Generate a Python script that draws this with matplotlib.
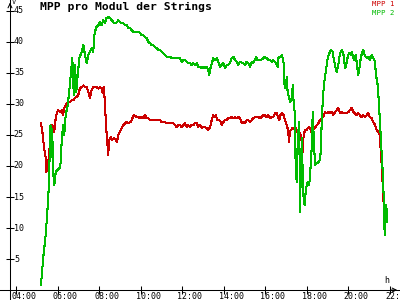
import matplotlib
matplotlib.use("Agg")
import matplotlib.pyplot as plt

# MPP 1 (red), hours / volts
mpp1_time = [5.20, 5.27, 5.35, 5.43, 5.46, 5.53, 5.59, 5.67, 5.75, 5.84, 5.91, 5.97, 6.04, 6.12,
             6.20, 6.26, 6.32, 6.39, 6.49, 6.58, 6.68, 6.76, 6.84, 6.92, 7.00, 7.08, 7.16, 7.24,
             7.32, 7.40, 7.48, 7.56, 7.64, 7.72, 7.88, 7.96, 8.04, 8.12, 8.17, 8.22, 8.28, 8.33,
             8.38, 8.44, 8.48, 8.56, 8.63, 8.72, 8.80, 8.86, 8.92, 9.00, 9.09, 9.16, 9.25, 9.33,
             9.40, 9.53, 9.60, 9.66, 9.81, 9.89, 9.97, 10.05, 10.13, 10.21, 10.29, 10.37, 10.45,
             10.69, 10.93, 11.01, 11.17, 11.25, 11.57, 11.65, 11.73, 11.81, 11.89, 11.97, 12.05,
             12.13, 12.21, 12.29, 12.37, 12.45, 12.53, 12.61, 12.70, 12.77, 12.85, 12.94, 13.01,
             13.09, 13.18, 13.25, 13.34, 13.42, 13.49, 13.58, 13.62, 13.69, 13.78, 13.85, 13.91,
             13.98, 14.06, 14.14, 14.22, 14.30, 14.38, 14.46, 14.54, 14.62, 14.70, 14.78, 14.86,
             14.94, 15.02, 15.10, 15.18, 15.26, 15.34, 15.42, 15.50, 15.58, 15.66, 15.74, 15.82,
             15.90, 15.98, 16.06, 16.14, 16.22, 16.30, 16.38, 16.46, 16.55, 16.62, 16.67, 16.72,
             16.81, 16.88, 16.94, 17.03, 17.07, 17.10, 17.14, 17.18, 17.23, 17.30, 17.36, 17.43,
             17.47, 17.52, 17.58, 17.63, 17.70, 17.75, 17.80, 17.83, 17.87, 17.90, 17.99, 18.04,
             18.10, 18.16, 18.23, 18.29, 18.35, 18.42, 18.48, 18.55, 18.63, 18.71, 18.79, 18.87,
             18.95, 19.03, 19.11, 19.19, 19.27, 19.35, 19.43, 19.51, 19.59, 19.67, 19.75, 19.83,
             19.91, 19.99, 20.07, 20.15, 20.23, 20.31, 20.39, 20.47, 20.55, 20.63, 20.71, 20.79,
             20.88, 20.95, 21.03, 21.12, 21.19, 21.28, 21.36, 21.43, 21.48, 21.52, 21.56, 21.60,
             21.63, 21.66, 21.69]
mpp1_volt = [26.9, 25.5, 22.9, 21.3, 19.0, 19.8, 21.8, 25.5, 26.6, 25.5, 27.7, 28.7, 29.0, 28.7,
             29.0, 28.2, 29.4, 29.8, 30.3, 30.3, 30.6, 30.6, 31.0, 31.1, 31.5, 32.6, 32.7, 33.0,
             32.7, 32.7, 32.0, 31.0, 32.3, 32.7, 32.7, 32.5, 32.7, 32.6, 31.8, 32.7, 30.3, 26.6,
             24.5, 21.8, 24.2, 24.7, 24.2, 24.5, 24.2, 23.9, 25.0, 25.5, 26.1, 26.6, 26.9, 27.1,
             26.9, 27.1, 27.7, 28.2, 27.9, 27.9, 27.7, 27.9, 27.7, 28.2, 27.7, 27.7, 27.4,
             27.4, 27.4, 27.1, 27.1, 26.9, 26.9, 26.6, 26.3, 26.6, 26.6, 26.3, 26.6,
             26.9, 26.3, 26.6, 26.3, 26.6, 26.6, 26.9, 26.9, 26.3, 26.6, 26.1, 26.3,
             26.3, 26.1, 25.8, 26.3, 27.4, 28.2, 27.9, 28.2, 27.4, 27.4, 27.1, 26.6,
             27.1, 27.4, 27.4, 27.7, 27.7, 27.9, 27.7, 27.9, 27.7, 27.9, 27.7, 26.9,
             27.1, 26.9, 27.4, 27.4, 27.1, 27.4, 27.7, 27.9, 27.9, 27.9, 27.7, 27.9,
             28.2, 28.2, 27.9, 28.2, 27.7, 27.9, 27.9, 28.5, 28.5, 27.7, 27.4, 28.2,
             28.5, 28.2, 27.4, 26.6, 26.1, 25.5, 23.9, 25.5, 25.8, 26.1, 26.1, 25.8,
             26.1, 25.5, 25.8, 25.5, 25.0, 23.9, 22.3, 24.5, 25.3, 25.8, 25.8, 26.1,
             26.3, 26.1, 25.3, 25.8, 26.1, 26.3, 26.6, 26.9, 27.4, 27.7, 27.9, 28.7,
             28.5, 28.7, 28.5, 28.7, 28.2, 28.7, 29.0, 29.4, 28.5, 28.7, 28.5, 28.5,
             28.5, 28.7, 29.0, 29.4, 28.7, 28.5, 28.2, 28.5, 28.2, 27.9, 28.2, 27.9,
             28.2, 28.5, 27.9, 27.7, 27.1, 26.6, 25.8, 25.5, 25.3, 24.5, 21.8, 20.2,
             18.1, 15.8, 14.0]

# MPP 2 (green)
mpp2_time = [5.20, 5.31, 5.43, 5.53, 5.59, 5.62, 5.66, 5.70, 5.74, 5.80, 5.84, 5.91, 6.00, 6.12,
             6.17, 6.20, 6.28, 6.32, 6.39, 6.49, 6.56, 6.65, 6.71, 6.78, 6.84, 6.90, 6.97, 7.05,
             7.16, 7.24, 7.32, 7.40, 7.48, 7.64, 7.72, 7.77, 7.85, 7.96, 8.04, 8.12, 8.20, 8.28,
             8.36, 8.44, 8.52, 8.61, 8.68, 8.76, 8.85, 8.92, 9.00, 9.09, 9.16, 9.25, 9.33, 9.40,
             9.49, 9.57, 9.64, 9.73, 9.81, 9.89, 9.97, 10.05, 10.13, 10.21, 10.29, 10.37, 10.45,
             10.53, 10.61, 10.69, 10.77, 10.85, 10.93, 11.01, 11.09, 11.17, 11.25, 11.41, 11.49,
             11.89, 11.97, 12.05, 12.13, 12.21, 12.29, 12.37, 12.45, 12.53, 12.61, 12.70, 12.77,
             12.85, 12.94, 13.01, 13.09, 13.18, 13.25, 13.30, 13.37, 13.43, 13.49, 13.58, 13.66,
             13.73, 13.82, 13.90, 13.98, 14.06, 14.14, 14.22, 14.30, 14.38, 14.46, 14.54, 14.62,
             14.70, 14.78, 14.94, 15.02, 15.10, 15.18, 15.26, 15.34, 15.42, 15.50, 15.55, 15.61,
             15.68, 15.79, 15.90, 15.98, 16.06, 16.14, 16.22, 16.30, 16.38, 16.46, 16.55, 16.59,
             16.62, 16.70, 16.79, 16.83, 16.88, 16.91, 16.94, 16.99, 17.04, 17.07, 17.14, 17.20,
             17.27, 17.32, 17.36, 17.41, 17.46, 17.51, 17.56, 17.60, 17.63, 17.67, 17.71, 17.76,
             17.80, 17.84, 17.89, 17.94, 17.99, 18.04, 18.11, 18.16, 18.23, 18.28, 18.33, 18.39,
             18.47, 18.55, 18.63, 18.68, 18.71, 18.77, 18.82, 18.87, 18.95, 19.01, 19.08, 19.16,
             19.24, 19.30, 19.37, 19.43, 19.51, 19.56, 19.63, 19.69, 19.75, 19.80, 19.85, 19.91,
             19.98, 20.04, 20.11, 20.17, 20.23, 20.28, 20.35, 20.42, 20.47, 20.54, 20.59, 20.65,
             20.71, 20.78, 20.84, 20.90, 20.97, 21.03, 21.12, 21.19, 21.28, 21.32, 21.39, 21.43,
             21.48, 21.52, 21.56, 21.60, 21.65, 21.68, 21.71, 21.74, 21.77, 21.80, 21.83, 21.86]
mpp2_volt = [0.8, 5.2, 8.9, 13.7, 17.4, 22.0, 26.6, 21.5, 26.0, 18.5, 16.9, 19.0, 19.4, 19.7,
             21.3, 24.5, 26.6, 25.0, 28.2, 29.8, 32.0, 35.2, 37.4, 31.5, 36.3, 32.0, 34.7, 37.4,
             38.4, 39.5, 37.9, 36.6, 37.9, 39.0, 38.4, 41.1, 42.3, 42.7, 43.2, 42.7, 43.5, 43.0,
             43.9, 44.0, 43.9, 43.5, 43.2, 43.0, 43.2, 43.5, 43.2, 43.0, 43.0, 42.7, 42.7, 42.3,
             42.3, 41.9, 41.6, 41.6, 41.6, 41.6, 41.5, 41.1, 41.1, 40.8, 40.6, 40.0, 39.8,
             39.5, 39.5, 39.2, 39.0, 38.7, 38.7, 38.4, 38.2, 37.9, 37.6, 37.6, 37.4,
             37.4, 36.8, 37.1, 37.1, 36.8, 36.6, 36.6, 36.3, 36.6, 36.3, 36.6, 36.0,
             36.0, 35.8, 36.0, 35.8, 36.0, 35.5, 34.7, 36.0, 36.6, 37.4, 37.1, 37.4,
             36.8, 36.0, 36.3, 36.6, 35.8, 36.3, 36.3, 36.6, 37.4, 37.6, 37.1, 36.8,
             36.3, 36.8, 36.6, 36.3, 36.8, 36.6, 36.0, 36.8, 36.6, 37.1, 37.6, 37.1,
             37.1, 37.1, 37.4, 37.6, 37.4, 37.1, 37.1, 36.8, 37.1, 36.8, 36.3, 36.0,
             37.4, 37.6, 37.9, 37.4, 36.6, 33.5, 32.6, 33.5, 34.4, 32.0, 31.1, 30.3,
             31.0, 33.1, 30.3, 28.7, 19.7, 17.4, 24.5, 26.1, 27.1, 12.6, 20.2, 24.5,
             18.1, 14.8, 13.7, 15.8, 16.9, 17.4, 16.9, 19.0, 22.9, 28.7, 24.5, 20.2,
             20.4, 20.6, 21.0, 23.0, 27.1, 31.0, 33.1, 34.4, 36.3, 37.6, 38.2, 38.7,
             38.4, 37.1, 36.0, 35.2, 36.3, 37.6, 38.4, 38.7, 38.2, 36.8, 35.8, 36.6,
             37.9, 38.2, 37.9, 38.4, 37.4, 37.1, 37.9, 36.0, 34.7, 36.0, 37.4, 38.2,
             38.7, 37.9, 37.6, 37.4, 37.6, 37.1, 37.9, 37.4, 36.8, 34.7, 33.5, 31.9,
             29.4, 26.6, 24.5, 21.8, 19.0, 16.5, 13.7, 8.9, 11.6, 13.7, 13.2, 11.0]

y_ticks = [5, 10, 15, 20, 25, 30, 35, 40, 45]
x_ticks = [4, 6, 8, 10, 12, 14, 16, 18, 20, 22]
x_labels = ["04:00", "06:00", "08:00", "10:00", "12:00", "14:00", "16:00", "18:00", "20:00", "22:00"]

red = "#cc0000"
green = "#00bb00"
mono = "DejaVu Sans Mono"

fig = plt.figure(figsize=(4, 3), dpi=100)
ax = fig.add_axes([0, 0, 1, 1])
ax.set_xlim(3.23, 22.48)
ax.set_ylim(-1.61, 46.77)

ax.plot(mpp1_time, mpp1_volt, color=red, lw=0.75, antialiased=False)
ax.plot(mpp2_time, mpp2_volt, color=green, lw=0.75, antialiased=False)

# axes drawn as crossing lines
for s in ["top", "right"]:
    ax.spines[s].set_visible(False)
ax.spines["left"].set_position(("data", 3.71))
ax.spines["bottom"].set_position(("data", 0))
ax.spines["left"].set_linewidth(0.75)
ax.spines["bottom"].set_linewidth(0.75)
ax.set_yticks(y_ticks)
ax.set_xticks(x_ticks)
ax.set_yticklabels([])
ax.set_xticklabels([])
ax.tick_params(direction="inout", length=6, width=0.75, color="black")

for v in y_ticks:
    ax.text(3.90, v, str(v), fontsize=6, family=mono, ha="left", va="center")
for t, lab in zip(x_ticks, x_labels):
    ax.text(t - 0.24, -0.35, lab, fontsize=6, family=mono, ha="left", va="top")

# arrow heads
ax.annotate("", xy=(1.0, 0), xytext=(0.97, 0), xycoords=("axes fraction", "data"),
            arrowprops=dict(arrowstyle="->", lw=0.75, color="black", mutation_scale=7))
ax.annotate("", xy=(3.71, 46.77), xytext=(3.71, 45.5),
            arrowprops=dict(arrowstyle="->", lw=0.75, color="black", mutation_scale=7))

ax.text(3.80, 46.5, "V", fontsize=5, family=mono, ha="left", va="center")
ax.text(21.85, 1.5, "h", fontsize=6, family=mono, ha="center", va="center")

ax.text(0.1, 0.992, "MPP pro Modul der Strings", transform=ax.transAxes,
        fontsize=8.2, family=mono, fontweight="bold", ha="left", va="top")
ax.text(0.985, 0.998, "MPP 1", transform=ax.transAxes, fontsize=5.3, family=mono,
        color=red, ha="right", va="top")
ax.text(0.985, 0.950, "MPP 2", transform=ax.transAxes, fontsize=5.3, family=mono,
        color=green, ha="right", va="baseline")

fig.savefig("out.png", dpi=100)
